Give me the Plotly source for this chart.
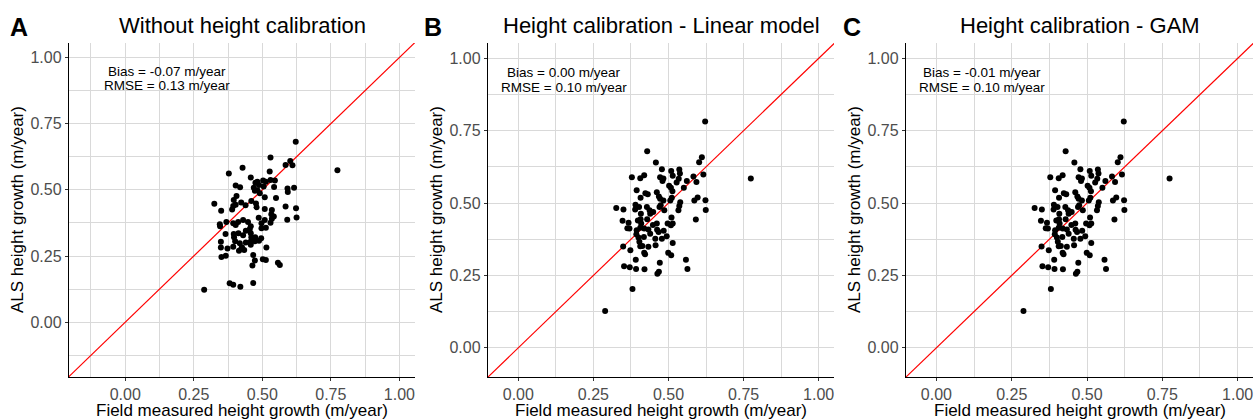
import plotly.graph_objects as go

# ---------------- data ----------------
# Panel A: without height calibration
field_a = [0.622, 0.774, 0.530, 0.585, 0.602, 0.610, 0.428, 0.378, 0.527, 0.458,
           0.403, 0.419, 0.475, 0.482, 0.488, 0.503, 0.513, 0.530, 0.546, 0.543,
           0.469, 0.473, 0.482, 0.505, 0.491, 0.509, 0.592, 0.593, 0.616, 0.406,
           0.396, 0.325, 0.403, 0.423, 0.439, 0.460, 0.477, 0.479, 0.550, 0.350,
           0.390, 0.394, 0.509, 0.535, 0.533, 0.535, 0.585, 0.623, 0.591, 0.625,
           0.487, 0.369, 0.345, 0.346, 0.394, 0.403, 0.412, 0.430, 0.448, 0.458,
           0.454, 0.497, 0.513, 0.497, 0.509, 0.542, 0.530, 0.366, 0.396, 0.397,
           0.413, 0.430, 0.440, 0.458, 0.460, 0.474, 0.473, 0.496, 0.488, 0.349,
           0.349, 0.373, 0.394, 0.401, 0.418, 0.424, 0.415, 0.440, 0.458, 0.434,
           0.426, 0.457, 0.515, 0.351, 0.367, 0.467, 0.473, 0.464, 0.502, 0.513,
           0.557, 0.564, 0.381, 0.394, 0.420, 0.467, 0.288]
als_a = [0.682, 0.574, 0.622, 0.594, 0.609, 0.593, 0.584, 0.562, 0.569, 0.547,
         0.517, 0.510, 0.527, 0.531, 0.518, 0.535, 0.531, 0.537, 0.535, 0.511,
         0.508, 0.497, 0.499, 0.513, 0.487, 0.472, 0.505, 0.492, 0.508, 0.477,
         0.462, 0.448, 0.444, 0.452, 0.442, 0.458, 0.449, 0.434, 0.469, 0.421,
         0.426, 0.439, 0.428, 0.424, 0.408, 0.391, 0.437, 0.431, 0.387, 0.396,
         0.395, 0.379, 0.370, 0.363, 0.374, 0.367, 0.379, 0.386, 0.379, 0.363,
         0.351, 0.355, 0.357, 0.374, 0.386, 0.399, 0.376, 0.333, 0.333, 0.321,
         0.336, 0.329, 0.346, 0.336, 0.321, 0.321, 0.306, 0.317, 0.308, 0.304,
         0.282, 0.279, 0.285, 0.306, 0.298, 0.279, 0.270, 0.301, 0.293, 0.273,
         0.283, 0.304, 0.282, 0.246, 0.251, 0.254, 0.233, 0.214, 0.238, 0.235,
         0.225, 0.216, 0.147, 0.142, 0.134, 0.148, 0.123]

# Panels B and C: field measured values
field_bc = [0.622, 0.774, 0.429, 0.458, 0.611, 0.602, 0.478, 0.509, 0.536, 0.538,
            0.514, 0.534, 0.378, 0.406, 0.419, 0.472, 0.480, 0.483, 0.502, 0.508,
            0.513, 0.527, 0.561, 0.583, 0.593, 0.616, 0.551, 0.394, 0.407, 0.423,
            0.431, 0.461, 0.468, 0.472, 0.483, 0.506, 0.511, 0.539, 0.536, 0.533,
            0.586, 0.597, 0.623, 0.624, 0.591, 0.326, 0.350, 0.390, 0.389, 0.402,
            0.408, 0.428, 0.437, 0.439, 0.449, 0.470, 0.474, 0.486, 0.510, 0.497,
            0.508, 0.514, 0.347, 0.367, 0.370, 0.363, 0.398, 0.407, 0.409, 0.406,
            0.419, 0.429, 0.448, 0.461, 0.462, 0.467, 0.439, 0.433, 0.394, 0.393,
            0.400, 0.418, 0.456, 0.478, 0.494, 0.484, 0.349, 0.373, 0.403, 0.406,
            0.413, 0.433, 0.457, 0.419, 0.422, 0.514, 0.499, 0.509, 0.391, 0.352,
            0.371, 0.392, 0.420, 0.471, 0.468, 0.463, 0.558, 0.563, 0.380, 0.289]
# Panel B: height calibration - linear model
als_linear = [0.782, 0.585, 0.679, 0.640, 0.658, 0.641, 0.617, 0.611, 0.616, 0.602,
              0.594, 0.584, 0.589, 0.586, 0.596, 0.589, 0.576, 0.585, 0.560, 0.553,
              0.541, 0.571, 0.576, 0.592, 0.573, 0.599, 0.553, 0.544, 0.518, 0.534,
              0.530, 0.537, 0.523, 0.515, 0.509, 0.509, 0.518, 0.503, 0.490, 0.475,
              0.509, 0.519, 0.510, 0.476, 0.443, 0.483, 0.478, 0.494, 0.478, 0.486,
              0.463, 0.486, 0.475, 0.463, 0.469, 0.486, 0.492, 0.475, 0.450, 0.429,
              0.423, 0.429, 0.439, 0.432, 0.412, 0.413, 0.440, 0.444, 0.429, 0.415,
              0.412, 0.444, 0.424, 0.429, 0.408, 0.400, 0.394, 0.409, 0.406, 0.392,
              0.381, 0.383, 0.377, 0.377, 0.385, 0.404, 0.350, 0.337, 0.366, 0.351,
              0.352, 0.349, 0.354, 0.328, 0.323, 0.362, 0.328, 0.320, 0.304, 0.282,
              0.278, 0.272, 0.271, 0.294, 0.263, 0.256, 0.304, 0.272, 0.203, 0.127]
# Panel C: height calibration - GAM
als_gam = [0.782, 0.585, 0.679, 0.640, 0.658, 0.641, 0.617, 0.611, 0.616, 0.602,
           0.594, 0.584, 0.589, 0.586, 0.596, 0.589, 0.576, 0.585, 0.560, 0.553,
           0.541, 0.571, 0.576, 0.592, 0.573, 0.599, 0.553, 0.544, 0.518, 0.534,
           0.530, 0.537, 0.523, 0.515, 0.509, 0.509, 0.518, 0.503, 0.490, 0.475,
           0.509, 0.519, 0.510, 0.476, 0.443, 0.483, 0.478, 0.494, 0.478, 0.486,
           0.463, 0.486, 0.475, 0.463, 0.469, 0.486, 0.492, 0.475, 0.450, 0.429,
           0.423, 0.429, 0.439, 0.432, 0.412, 0.413, 0.440, 0.444, 0.429, 0.415,
           0.412, 0.444, 0.424, 0.429, 0.408, 0.400, 0.394, 0.409, 0.406, 0.392,
           0.381, 0.383, 0.377, 0.377, 0.385, 0.404, 0.350, 0.337, 0.366, 0.351,
           0.352, 0.349, 0.354, 0.328, 0.323, 0.362, 0.328, 0.320, 0.304, 0.282,
           0.278, 0.272, 0.271, 0.294, 0.263, 0.256, 0.304, 0.272, 0.203, 0.127]

panel_letters = ["A", "B", "C"]
panel_titles = ["Without height calibration",
                "Height calibration - Linear model",
                "Height calibration - GAM"]
bias_labels = ["Bias = -0.07 m/year", "Bias = 0.00 m/year", "Bias = -0.01 m/year"]
rmse_labels = ["RMSE = 0.13 m/year", "RMSE = 0.10 m/year", "RMSE = 0.10 m/year"]
tick_vals = [0.0, 0.25, 0.5, 0.75, 1.0]
tick_text = ["0.00", "0.25", "0.50", "0.75", "1.00"]
minor_vals = [-0.125, 0.125, 0.375, 0.625, 0.875]
x_title = "Field measured height growth (m/year)"
y_title = "ALS height growth (m/year)"

# ---------------- layout ----------------
W, H = 1255, 419
FONT = "Arial, Liberation Sans, Helvetica, sans-serif"
px_x = [(69, 415), (488, 834), (906, 1253)]
px_y = (43, 377)
x_ranges = [[-0.205, 1.057], [-0.101, 1.051], [-0.101, 1.051]]
y_ranges = [[-0.207, 1.055], [-0.101, 1.053], [-0.101, 1.053]]
ann_y = [(0.946, 0.896), (0.951, 0.900), (0.951, 0.900)]
ytitle_px = [17, 436, 854]
letter_px = [19, 433, 852]

series = [(field_a, als_a), (field_bc, als_linear), (field_bc, als_gam)]

fig = go.Figure()
annotations = []
grid_col = "#d9d9d9"
for i in range(3):
    xa = "x" if i == 0 else f"x{i+1}"
    ya = "y" if i == 0 else f"y{i+1}"
    fx, fy = series[i]
    # 1:1 line
    fig.add_trace(go.Scatter(x=[-0.3, 1.2], y=[-0.3, 1.2], mode="lines",
                             line=dict(color="red", width=1.2),
                             xaxis=xa, yaxis=ya, showlegend=False, hoverinfo="skip"))
    fig.add_trace(go.Scatter(x=fx, y=fy, mode="markers",
                             marker=dict(color="black", size=6),
                             xaxis=xa, yaxis=ya, showlegend=False))
    x0, x1 = px_x[i]
    dom_x = [x0 / W, x1 / W]
    dom_y = [1 - px_y[1] / H, 1 - px_y[0] / H]
    axis_common = dict(
        tickvals=tick_vals, ticktext=tick_text,
        showgrid=True, gridcolor=grid_col, gridwidth=1,
        minor=dict(tickvals=minor_vals, showgrid=True, gridcolor=grid_col, gridwidth=1),
        showline=True, linecolor="black", linewidth=1.4, mirror=False,
        ticks="outside", ticklen=3, tickcolor="#333333", tickwidth=1,
        tickfont=dict(family=FONT, size=16, color="#4d4d4d"),
        zeroline=False, fixedrange=True,
    )
    fig.layout[("xaxis" if i == 0 else f"xaxis{i+1}")] = dict(
        domain=dom_x, range=x_ranges[i], anchor=ya, **axis_common)
    fig.layout[("yaxis" if i == 0 else f"yaxis{i+1}")] = dict(
        domain=dom_y, range=y_ranges[i], anchor=xa, **axis_common)

    cx = (x0 + x1) / 2 / W
    # panel title
    annotations.append(dict(text=panel_titles[i], x=cx, y=1 - 25 / H, xref="paper", yref="paper",
                            showarrow=False, xanchor="center", yanchor="middle",
                            font=dict(family=FONT, size=22, color="black")))
    # panel letter
    annotations.append(dict(text="<b>" + panel_letters[i] + "</b>", x=letter_px[i] / W, y=1 - 27 / H,
                            xref="paper", yref="paper", showarrow=False,
                            xanchor="center", yanchor="middle",
                            font=dict(family=FONT, size=25, color="black")))
    # x title
    annotations.append(dict(text=x_title, x=cx, y=1 - 410.5 / H, xref="paper", yref="paper",
                            showarrow=False, xanchor="center", yanchor="middle", borderpad=0,
                            font=dict(family=FONT, size=17, color="black")))
    # y title
    annotations.append(dict(text=y_title, x=ytitle_px[i] / W, y=1 - 210 / H, xref="paper", yref="paper",
                            showarrow=False, xanchor="center", yanchor="middle", textangle=-90,
                            font=dict(family=FONT, size=17, color="black")))
    # bias / rmse
    annotations.append(dict(text=bias_labels[i], x=0.151, y=ann_y[i][0], xref=xa, yref=ya,
                            showarrow=False, xanchor="center", yanchor="middle",
                            font=dict(family=FONT, size=13.5, color="black")))
    annotations.append(dict(text=rmse_labels[i], x=0.151, y=ann_y[i][1], xref=xa, yref=ya,
                            showarrow=False, xanchor="center", yanchor="middle",
                            font=dict(family=FONT, size=13.5, color="black")))

fig.update_layout(width=W, height=H, margin=dict(l=0, r=0, t=0, b=0),
                  paper_bgcolor="white", plot_bgcolor="white",
                  annotations=annotations, showlegend=False)

fig.write_html("out.html")
